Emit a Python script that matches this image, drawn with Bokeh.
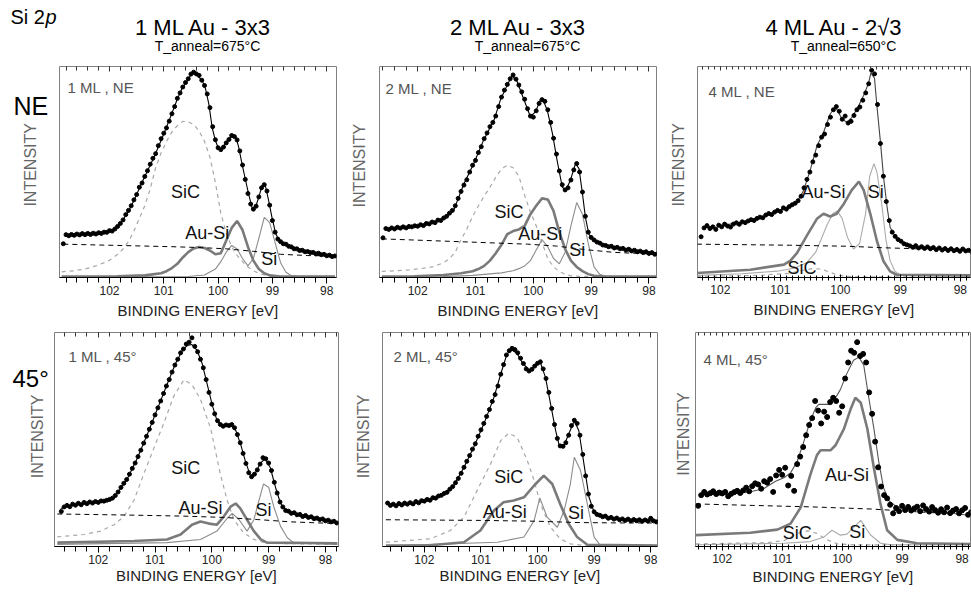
import math
from bokeh.plotting import figure
from bokeh.models import Range1d, LinearAxis, SingleIntervalTicker, Label
from bokeh.layouts import row, column
from bokeh.embed import file_html
from bokeh.resources import INLINE

FONT = "Liberation Sans"
DOT_STEP = 0.05

# ---------------- Panel 1 : 1 ML, NE ----------------
P1_DOT_E0 = 102.85
P1_DOTS = [16.0,20.3,19.8,20.4,20.0,20.6,20.2,20.8,20.3,20.9,
           20.4,21.0,20.6,21.2,20.9,21.5,21.4,22.2,22.0,23.0,
           24.2,25.6,27.3,29.8,31.8,34.0,36.8,39.3,42.8,44.8,
           47.9,50.6,53.7,56.5,58.7,62.5,65.8,68.4,70.9,74.1,
           77.6,81.0,84.9,87.5,90.3,92.4,94.2,96.4,97.3,96.5,
           95.8,93.5,91.0,87.0,80.5,71.5,65.3,61.5,60.6,61.8,
           63.8,65.4,67.3,66.8,65.2,60.0,53.3,46.5,39.8,34.8,
           32.4,33.8,38.2,42.5,44.0,41.0,34.3,27.0,21.5,18.2,
           17.0,16.0,15.8,14.8,14.5,13.6,13.6,12.8,12.9,12.2,
           12.3,11.8,11.9,11.2,11.5,10.8,11.0,10.3,10.6,9.9,10.2]
P1_FIT = [(102.81,20.0),(102.47,20.5),(102.17,20.8),(101.92,22.4),(101.80,25.5),(101.64,31.8),
          (101.55,36.5),(101.37,46.8),(101.18,57.0),(101.00,68.0),(100.88,75.9),(100.75,84.6),
          (100.66,89.8),(100.57,93.2),(100.48,96.8),(100.39,96.0),(100.29,93.2),(100.23,89.3),
          (100.17,82.2),(100.11,71.2),(100.05,64.9),(99.99,60.9),(99.93,60.9),(99.83,64.9),
          (99.74,67.2),(99.68,67.2),(99.62,61.7),(99.56,53.9),(99.50,46.8),(99.44,39.7),
          (99.37,32.6),(99.31,33.4),(99.25,38.1),(99.19,43.6),(99.13,43.6),(99.07,36.5),
          (99.01,28.7),(98.94,20.8),(98.88,17.6),(98.79,16.1),(98.61,13.7),(98.36,12.1),
          (98.12,11.0),(97.87,9.8)]
P1_BG = [(102.85,15.8),(102.35,15.5),(101.85,15.2),(101.35,14.9),(100.85,14.6),(100.35,14.2),
         (99.85,13.6),(99.35,12.4),(98.85,11.0),(98.35,10.4),(97.85,10.2)]
P1_SIC = [(102.88,2.7),(102.65,3.2),(102.45,4.0),(102.25,5.5),(102.05,7.5),(101.95,9.0),(101.85,11.0),
          (101.75,13.5),(101.65,17.0),(101.55,22.0),(101.45,28.0),(101.35,34.0),(101.25,42.0),
          (101.15,52.0),(101.05,59.0),(100.95,64.5),(100.85,69.0),(100.75,72.0),(100.65,74.0),
          (100.55,73.8),(100.45,72.5),(100.35,69.5),(100.25,64.5),(100.15,57.0),(100.05,45.0),
          (99.95,30.5),(99.85,21.0),(99.75,14.5),(99.65,10.5),(99.55,7.5),(99.45,5.0),(99.35,3.2),
          (99.25,2.0),(99.15,1.2),(99.05,0.8),(98.85,0.5),(97.85,0.5)]
P1_AUSI = [(102.88,0.5),(102.35,0.5),(101.85,0.6),(101.35,1.0),(101.05,2.0),(100.95,3.0),(100.85,4.5),
           (100.75,6.5),(100.65,9.5),(100.55,12.0),(100.45,13.8),(100.35,14.5),(100.25,14.0),
           (100.15,12.8),(100.05,11.0),(99.95,11.5),(99.85,17.5),(99.75,23.5),(99.65,26.8),
           (99.55,22.5),(99.45,14.5),(99.35,8.0),(99.25,4.0),(99.15,2.0),(99.05,1.0),(98.85,0.5),(97.85,0.5)]
P1_SI = [(102.88,0.3),(100.55,0.5),(100.25,1.2),(100.05,4.0),(99.95,7.5),(99.85,12.0),(99.75,15.2),
         (99.65,13.5),(99.55,9.0),(99.45,5.5),(99.35,9.0),(99.25,18.5),(99.15,28.5),(99.05,26.0),
         (98.95,16.5),(98.85,7.0),(98.75,2.5),(98.65,0.8),(98.45,0.3),(97.85,0.3)]
P1_TEXT = [("SiC",100.60,40.5),("Au-Si",100.20,21.0),("Si",99.06,9.0)]

# ---------------- Panel 2 : 2 ML, NE ----------------
P2_DOT_E0 = 102.60
P2_DOTS = [18.8,23.2,22.8,23.5,23.0,23.8,23.4,24.0,23.5,24.2,
           24.0,24.5,24.3,25.0,24.6,25.6,25.4,26.3,26.0,27.2,
           27.0,28.2,29.0,30.5,31.8,34.0,37.5,40.8,43.8,46.3,
           50.0,53.2,55.5,59.2,62.0,65.8,68.5,71.5,73.5,76.5,
           81.0,85.5,88.8,91.5,94.2,96.0,94.0,91.2,88.0,84.5,
           80.0,76.5,76.0,79.0,82.5,84.3,83.5,79.5,73.5,66.0,
           58.5,50.5,44.0,41.5,42.5,46.2,51.0,54.0,50.0,40.5,
           29.0,21.5,19.0,17.8,16.8,16.3,15.4,15.2,14.6,14.8,
           14.0,14.3,13.6,13.8,13.0,13.4,12.6,12.9,12.2,12.5,
           11.8,12.2,11.4,11.8,11.0,11.3]
P2_FIT = [(102.53,23.0),(102.36,23.3),(102.07,24.1),(101.78,25.7),(101.55,27.8),(101.38,31.7),
          (101.20,44.4),(101.03,54.0),(100.86,65.1),(100.68,74.6),(100.57,84.1),(100.45,91.3),
          (100.37,95.5),(100.28,92.9),(100.16,84.1),(100.05,76.2),(99.96,78.6),(99.88,84.1),
          (99.82,83.3),(99.76,79.4),(99.67,68.3),(99.59,55.6),(99.50,42.9),(99.44,41.3),
          (99.36,46.0),(99.27,54.0),(99.21,51.6),(99.15,39.7),(99.10,28.6),(99.04,20.6),
          (98.95,17.5),(98.78,15.1),(98.43,13.5),(98.09,11.9),(97.87,11.1)]
P2_BG = [(102.62,18.3),(102.10,17.8),(101.60,17.3),(101.10,16.8),(100.60,16.3),(100.10,15.8),
         (99.60,14.9),(99.10,13.2),(98.60,11.9),(98.10,11.3),(97.87,11.1)]
P2_SIC = [(102.62,2.9),(102.35,3.2),(102.15,3.6),(101.95,4.2),(101.75,5.0),(101.55,7.0),(101.45,9.0),
          (101.35,12.0),(101.25,18.0),(101.15,23.0),(101.05,29.0),(100.95,34.0),(100.85,38.5),
          (100.75,42.8),(100.65,47.5),(100.55,51.5),(100.45,53.2),(100.35,52.0),(100.25,48.0),
          (100.15,39.0),(100.05,31.0),(99.95,24.5),(99.85,16.5),(99.75,9.0),(99.65,5.0),(99.55,2.8),
          (99.45,1.5),(99.35,0.8),(99.15,0.5),(97.87,0.5)]
P2_AUSI = [(102.62,0.5),(102.05,0.6),(101.55,1.2),(101.25,2.0),(101.05,3.0),(100.95,4.0),(100.85,5.5),
           (100.75,8.0),(100.65,11.5),(100.55,15.5),(100.45,20.5),(100.35,22.0),(100.25,22.8),
           (100.15,24.5),(100.05,30.0),(99.95,34.0),(99.85,37.5),(99.75,37.0),(99.65,31.5),
           (99.55,21.5),(99.45,13.5),(99.35,8.0),(99.25,5.0),(99.15,3.0),(99.05,1.6),(98.95,0.8),
           (98.75,0.5),(97.87,0.5)]
P2_SI = [(102.62,0.3),(101.55,0.4),(101.05,1.0),(100.55,2.2),(100.35,3.2),(100.25,4.2),(100.15,5.5),
         (100.05,8.0),(99.95,13.0),(99.85,18.0),(99.75,14.5),(99.65,9.0),(99.55,6.5),(99.45,12.0),
         (99.35,24.5),(99.25,35.5),(99.15,30.0),(99.05,16.0),(98.95,5.0),(98.85,1.5),(98.75,0.5),
         (97.87,0.3)]
P2_TEXT = [("SiC",100.42,31.0),("Au-Si",99.88,20.6),("Si",99.24,13.0)]

# ---------------- Panel 3 : 4 ML, NE ----------------
P3_DOT_E0 = 102.32
P3_DOT_STEP = 0.049
P3_DOTS = [19.3,23.5,24.6,23.2,24.0,22.8,24.8,24.0,25.3,24.4,
           23.9,25.3,25.9,25.2,26.4,26.0,26.8,27.4,27.0,28.0,
           28.6,28.3,29.6,30.3,29.8,31.0,31.8,31.3,33.0,32.4,
           33.6,34.5,35.2,36.4,38.5,42.5,46.5,50.0,54.8,58.0,
           62.5,66.5,68.0,72.5,76.0,79.5,81.0,78.8,75.0,76.5,
           73.2,74.0,76.8,79.5,80.8,84.0,87.5,91.8,98.2,96.5,
           82.0,63.5,48.0,36.0,27.0,21.5,19.5,18.0,17.2,16.0,
           15.5,15.0,14.3,15.1,14.0,14.6,13.8,14.5,13.6,14.2,
           13.2,14.0,13.0,13.7,12.8,13.6,12.7,13.3,12.4,13.5,
           12.6,12.9,12.2]
P3_FIT = [(102.28,23.8),(102.06,23.8),(101.78,25.7),(101.50,27.0),(101.22,29.4),(100.94,32.6),
          (100.72,35.8),(100.61,41.4),(100.50,51.0),(100.39,62.3),(100.28,68.7),(100.17,77.5),
          (100.08,80.7),(99.97,75.1),(99.89,73.5),(99.81,75.8),(99.72,79.9),(99.61,86.4),
          (99.53,92.0),(99.49,97.0),(99.43,94.4),(99.39,81.5),(99.33,63.9),(99.28,47.8),
          (99.22,33.4),(99.17,23.8),(99.06,18.1),(98.83,14.9),(98.56,14.1),(98.28,13.3),(97.83,12.8)]
P3_BG = [(102.39,15.8),(100.85,15.3),(99.87,14.8),(99.29,14.1),(98.70,13.6),(97.83,13.3)]
P3_SIC = [(102.39,0.5),(101.35,1.0),(100.85,2.0),(100.66,3.2),(100.47,4.2),(100.32,4.0),(100.17,2.5),
          (100.03,1.0),(99.78,0.3),(97.83,0.3)]
P3_AUSI = [(102.39,2.1),(101.50,3.7),(100.94,6.1),(100.83,8.0),(100.72,11.7),(100.56,19.7),(100.39,27.8),
           (100.28,30.2),(100.17,28.9),(100.06,30.2),(99.94,35.0),(99.81,41.4),(99.69,45.4),(99.61,41.4),
           (99.50,30.2),(99.39,17.3),(99.28,7.7),(99.17,2.9),(99.06,1.3),(97.83,1.0)]
P3_SI = [(102.39,1.0),(101.64,1.8),(101.05,3.0),(100.76,4.5),(100.56,7.0),(100.41,12.0),(100.32,18.0),
         (100.22,25.0),(100.12,30.5),(100.05,31.5),(99.97,28.0),(99.88,19.0),(99.78,13.5),(99.68,16.0),
         (99.58,30.0),(99.51,48.0),(99.44,54.0),(99.39,50.0),(99.31,35.0),(99.24,18.0),(99.17,8.0),
         (99.09,3.0),(99.00,1.2),(98.80,0.8),(97.83,0.8)]
P3_TEXT = [("Au-Si",100.28,40.6),("Si",99.41,40.6),("SiC",100.64,4.5)]

# ---------------- Panel 4 : 1 ML, 45 deg ----------------
P4_DOT_E0 = 102.65
P4_DOTS = [16.4,18.5,19.2,18.6,19.8,19.3,20.2,19.5,20.6,20.0,
           20.8,20.3,21.0,20.6,21.3,21.2,21.6,22.0,22.6,23.8,
           25.5,27.6,29.5,31.3,33.8,36.5,39.0,42.0,45.0,48.3,
           51.5,54.8,58.0,61.5,64.8,68.0,71.5,75.0,78.0,81.5,
           84.8,87.5,90.5,92.3,94.6,95.5,97.5,93.5,91.0,87.5,
           83.5,78.0,72.0,66.5,62.0,58.8,57.0,56.2,56.8,56.5,
           57.0,55.5,52.3,48.5,43.5,38.8,34.5,32.6,33.8,35.8,
           38.5,41.5,41.0,39.0,35.5,30.0,25.0,20.8,18.5,16.8,
           16.5,15.5,15.8,14.8,15.0,14.0,14.5,13.6,13.9,13.0,
           13.3,12.6,12.9,12.0,12.3,11.5,11.8,11.0]
P4_FIT = [(102.66,17.8),(102.55,18.8),(102.25,20.1),(101.96,20.9),(101.72,23.1),(101.61,27.0),
          (101.49,31.5),(101.31,41.4),(101.14,52.1),(100.96,64.2),(100.79,75.6),(100.64,85.5),
          (100.52,91.6),(100.43,94.0),(100.35,94.4),(100.26,91.6),(100.17,85.5),(100.08,75.6),
          (99.99,65.8),(99.91,58.9),(99.82,56.6),(99.67,56.6),(99.58,54.3),(99.49,47.5),
          (99.41,39.9),(99.32,33.0),(99.23,34.5),(99.14,39.1),(99.06,41.0),(98.97,36.8),
          (98.88,27.7),(98.79,20.1),(98.67,16.3),(98.44,14.3),(98.15,12.5),(97.79,11.0)]
P4_BG = [(102.72,15.2),(101.50,14.7),(100.50,14.2),(99.80,13.6),(99.20,12.6),(98.60,11.5),(97.79,10.7)]
P4_SIC = [(102.72,4.5),(102.25,5.6),(101.96,7.2),(101.72,10.2),(101.55,14.0),(101.37,21.6),(101.20,33.8),
          (101.02,46.0),(100.84,58.0),(100.67,70.3),(100.49,77.9),(100.35,75.6),(100.20,68.8),
          (100.02,55.1),(99.85,33.8),(99.73,21.6),(99.61,12.5),(99.44,6.4),(99.26,3.3),(99.03,1.5),
          (97.79,1.0)]
P4_AUSI = [(102.72,1.8),(101.37,2.6),(100.79,3.3),(100.55,5.6),(100.35,10.2),(100.20,11.7),(100.05,10.7),
           (99.91,10.2),(99.79,14.0),(99.67,18.6),(99.58,20.1),(99.50,17.8),(99.38,12.5),(99.26,7.2),
           (99.14,3.3),(99.03,1.8),(97.79,1.5)]
P4_SI = [(102.72,1.0),(100.79,1.8),(100.20,3.3),(99.91,7.2),(99.73,13.2),(99.64,15.5),(99.52,12.5),
         (99.38,7.2),(99.26,12.5),(99.17,21.6),(99.09,29.2),(99.00,27.7),(98.91,18.6),(98.79,9.4),
         (98.67,4.1),(98.56,1.8),(97.79,1.0)]
P4_TEXT = [("SiC",100.46,36.8),("Au-Si",100.20,17.8),("Si",99.09,17.0)]

# ---------------- Panel 5 : 2 ML, 45 deg ----------------
P5_DOT_E0 = 102.65
P5_DOTS = [20.3,19.2,19.8,19.0,20.1,19.4,20.3,19.8,20.5,19.9,
           21.0,20.4,21.4,21.2,22.0,21.6,22.8,22.6,23.6,23.9,
           24.8,25.3,26.8,28.0,29.8,31.8,34.2,37.0,39.8,42.5,
           45.5,48.0,51.5,54.5,57.5,60.8,64.0,67.8,71.0,75.0,
           80.5,85.0,89.5,91.5,92.6,92.0,90.5,88.0,85.5,83.0,
           82.0,82.8,84.3,85.6,86.3,83.0,78.5,72.0,64.5,57.0,
           50.5,47.0,46.8,48.5,52.0,56.5,59.0,57.5,52.0,43.0,
           33.0,24.5,18.8,16.2,15.0,14.6,13.9,14.2,13.2,13.6,
           12.8,13.3,12.5,12.9,12.2,12.8,12.0,12.6,12.0,12.5,
           11.8,12.4,11.9,13.2,12.0,11.5,11.8]
P5_FIT = [(102.66,19.9),(102.48,19.3),(102.19,19.9),(101.89,22.2),(101.66,24.6),(101.48,28.5),
          (101.30,37.0),(101.13,46.3),(100.95,57.2),(100.77,69.7),(100.65,80.6),(100.54,90.0),
          (100.45,91.8),(100.36,90.2),(100.27,86.0),(100.15,82.3),(100.04,84.4),(99.95,86.0),
          (99.86,79.0),(99.77,66.6),(99.68,54.1),(99.62,47.5),(99.53,47.3),(99.45,52.6),
          (99.35,58.8),(99.27,54.1),(99.18,38.6),(99.09,23.0),(99.00,16.0),(98.83,13.7),
          (98.47,12.1),(98.12,12.1),(97.85,11.7)]
P5_BG = [(102.68,12.5),(101.00,12.2),(100.00,11.8),(99.30,11.2),(98.50,11.0),(97.88,11.0)]
P5_SIC = [(102.68,2.0),(101.89,3.6),(101.54,7.5),(101.30,13.7),(101.07,26.1),(100.83,38.6),(100.65,49.5),
          (100.51,52.9),(100.36,51.0),(100.18,40.1),(100.06,30.8),(99.95,19.9),(99.77,9.0),(99.60,3.6),
          (99.42,1.2),(99.20,0.6),(97.88,0.6)]
P5_AUSI = [(102.68,0.5),(101.89,0.6),(101.30,2.0),(101.01,7.5),(100.77,16.8),(100.60,20.7),(100.42,21.5),
           (100.24,23.0),(100.06,28.5),(99.89,33.1),(99.74,29.2),(99.60,19.9),(99.45,10.6),(99.30,4.4),
           (99.12,0.8),(97.88,0.5)]
P5_SI = [(102.68,0.3),(100.71,2.0),(100.24,4.4),(100.06,12.1),(99.96,22.7),(99.83,13.7),(99.65,9.0),
         (99.53,16.8),(99.42,29.2),(99.35,41.7),(99.24,35.5),(99.12,19.9),(99.00,4.4),(98.89,0.5),
         (97.88,0.3)]
P5_TEXT = [("SiC",100.51,32.3),("Au-Si",100.58,16.0),("Si",99.32,15.6)]

# ---------------- Panel 6 : 4 ML, 45 deg ----------------
P6_DOT_E0 = 102.40
P6_DOTS = [19.0,24.0,25.5,24.3,24.9,25.8,24.5,25.2,24.8,25.5,
           23.5,24.6,25.4,26.0,25.0,26.2,27.5,25.8,28.2,29.5,
           29.0,27.0,30.5,29.8,31.5,25.5,33.2,35.8,33.5,36.8,
           28.5,33.0,26.0,38.5,42.0,46.5,52.0,56.8,60.0,68.0,
           63.5,57.5,63.0,60.5,67.5,69.5,68.0,62.5,65.5,78.5,
           86.0,91.5,90.5,95.5,89.0,90.0,86.0,72.0,62.0,49.0,
           37.0,28.0,24.0,22.5,19.5,15.5,18.0,16.5,19.0,17.0,
           18.5,16.8,17.8,18.6,16.5,19.2,17.5,16.3,18.4,17.0,
           15.8,17.4,16.0,18.2,15.6,16.8,17.5,15.5,16.9,18.0,
           14.8,16.0]
P6_FIT = [(102.36,24.1),(102.08,24.4),(101.81,24.7),(101.53,25.6),(101.31,27.0),(101.11,30.5),
          (100.97,32.1),(100.86,34.4),(100.75,39.7),(100.64,48.9),(100.53,58.8),(100.44,64.9),
          (100.39,66.4),(100.31,66.4),(100.19,66.4),(100.11,69.5),(100.03,73.3),(99.92,80.9),
          (99.81,87.0),(99.72,88.5),(99.64,84.7),(99.56,70.2),(99.47,55.0),(99.39,39.7),
          (99.31,27.5),(99.22,21.4),(99.08,18.3),(98.75,17.1),(98.31,16.0),(97.86,14.5)]
P6_BG = [(102.44,19.9),(101.50,19.2),(100.50,18.5),(99.50,17.5),(98.80,16.3),(97.86,14.8)]
P6_SIC = [(102.44,1.2),(101.25,1.8),(100.97,2.7),(100.75,6.1),(100.58,7.3),(100.42,6.1),(100.25,3.1),
          (100.08,1.2),(99.80,0.8),(97.86,0.8)]
P6_AUSI = [(102.44,5.3),(101.53,6.4),(101.08,7.9),(100.86,10.7),(100.69,18.3),(100.53,33.6),(100.42,42.7),
           (100.36,45.0),(100.19,45.0),(100.11,47.3),(99.97,55.0),(99.86,64.1),(99.78,69.5),(99.69,67.2),
           (99.58,55.0),(99.47,36.6),(99.36,19.8),(99.25,7.6),(99.08,3.1),(98.75,1.5),(97.86,1.2)]
P6_SI = [(102.44,0.8),(100.97,1.5),(100.53,2.3),(100.31,4.3),(100.17,7.6),(100.03,5.3),(99.92,5.8),
         (99.69,12.2),(99.53,5.5),(99.36,1.5),(99.19,0.8),(97.86,0.8)]
P6_TEXT = [("Au-Si",99.92,33.6),("SiC",100.75,6.1),("Si",99.75,6.9)]

COLUMN_TITLES = ["1 ML Au - 3x3", "2 ML Au - 3x3", "4 ML Au - 2\u221a3"]
ANNEAL = ["T_anneal=675\u00b0C", "T_anneal=675\u00b0C", "T_anneal=650\u00b0C"]
PANEL_TAGS = ["1 ML , NE", "2 ML , NE", "4 ML , NE", "1 ML , 45\u00b0", "2 ML, 45\u00b0", "4 ML, 45\u00b0"]
ROW_LABELS = ["NE", "45\u00b0"]
X_TITLE = "BINDING ENERGY [eV]"
Y_TITLE = "INTENSITY"

# ---------------- layout (page pixels) ----------------
HEADER = (0, 0, 971, 58)
ROW1 = (58, 322)
ROW2 = (322, 594)

# text items: (text, X, Ycenter, size, color, align, angle, style)
HEADER_TEXT = [
    ("Si 2", 10, 16.5, 20, "#000000", "left", 0, "normal"),
    ("p", 45, 16.5, 20, "#000000", "left", 0, "italic"),
    (COLUMN_TITLES[0], 203, 27, 22, "#000000", "center", 0, "normal"),
    (COLUMN_TITLES[1], 518, 27, 22, "#000000", "center", 0, "normal"),
    (COLUMN_TITLES[2], 834, 27, 22, "#000000", "center", 0, "normal"),
    (ANNEAL[0], 207, 45.5, 14, "#000000", "center", 0, "normal"),
    (ANNEAL[1], 527, 45.5, 14, "#000000", "center", 0, "normal"),
    (ANNEAL[2], 843, 45.5, 14, "#000000", "center", 0, "normal"),
]
VERT = math.pi / 2
STRIPS_ROW1 = [
    ((0, 52), [(ROW_LABELS[0], 13, 107.5, 25, "#000000", "left", 0, "normal"),
               (Y_TITLE, 30, 181, 16, "#666666", "center", VERT, "normal")]),
    ((340, 372), [(Y_TITLE, 359, 182, 16, "#666666", "center", VERT, "normal")]),
    ((660, 692), [(Y_TITLE, 678, 181, 16, "#666666", "center", VERT, "normal")]),
]
STRIPS_ROW2 = [
    ((0, 50), [(ROW_LABELS[1], 12, 380, 24, "#000000", "left", 0, "normal"),
               (Y_TITLE, 37, 454, 16, "#666666", "center", VERT, "normal")]),
    ((341, 376), [(Y_TITLE, 363, 454, 16, "#666666", "center", VERT, "normal")]),
    ((662, 692), [(Y_TITLE, 683, 451, 16, "#666666", "center", VERT, "normal")]),
]

CFG = [
    dict(tile=(52, 58, 340, 322), frame=(59, 66, 336, 277), er=(102.92, 97.82), minor=5, xls=4,
         dots=(P1_DOT_E0, DOT_STEP, P1_DOTS), fit=P1_FIT, bg=P1_BG, sic=P1_SIC, ausi=P1_AUSI, si=P1_SI,
         text=P1_TEXT, tag=(PANEL_TAGS[0], 67, 86.7)),
    dict(tile=(372, 58, 660, 322), frame=(379, 66, 656, 277), er=(102.66, 97.87), minor=5, xls=4,
         dots=(P2_DOT_E0, DOT_STEP, P2_DOTS), fit=P2_FIT, bg=P2_BG, sic=P2_SIC, ausi=P2_AUSI, si=P2_SI,
         text=P2_TEXT, tag=(PANEL_TAGS[1], 385, 87.5)),
    dict(tile=(692, 58, 971, 322), frame=(697, 66, 970, 277), er=(102.38, 97.83), minor=10, xls=4,
         dots=(P3_DOT_E0, P3_DOT_STEP, P3_DOTS), fit=P3_FIT, bg=P3_BG, sic=P3_SIC, ausi=P3_AUSI, si=P3_SI,
         text=P3_TEXT, tag=(PANEL_TAGS[2], 708, 91)),
    dict(tile=(50, 322, 341, 594), frame=(54, 332, 338, 550), er=(102.77, 97.77), minor=5, xls=0,
         dots=(P4_DOT_E0, DOT_STEP, P4_DOTS), fit=P4_FIT, bg=P4_BG, sic=P4_SIC, ausi=P4_AUSI, si=P4_SI,
         text=P4_TEXT, tag=(PANEL_TAGS[3], 68, 356)),
    dict(tile=(376, 322, 662, 594), frame=(382, 332, 657, 546), er=(102.74, 97.88), minor=5, xls=0,
         dots=(P5_DOT_E0, DOT_STEP, P5_DOTS), fit=P5_FIT, bg=P5_BG, sic=P5_SIC, ausi=P5_AUSI, si=P5_SI,
         text=P5_TEXT, tag=(PANEL_TAGS[4], 393, 356)),
    dict(tile=(692, 322, 971, 594), frame=(695, 332, 970, 550), er=(102.445, 97.86), minor=10, xls=2,
         dots=(P6_DOT_E0, DOT_STEP, P6_DOTS), fit=P6_FIT, bg=P6_BG, sic=P6_SIC, ausi=P6_AUSI, si=P6_SI,
         text=P6_TEXT, tag=(PANEL_TAGS[5], 703, 360)),
]


def text_strip(x0, y0, x1, y1, items):
    w, h = x1 - x0, y1 - y0
    p = figure(width=w, height=h, x_range=Range1d(0, w), y_range=Range1d(0, h), title=None,
               output_backend="svg", toolbar_location=None,
               x_axis_location=None, y_axis_location=None,
               min_border_left=0, min_border_right=0, min_border_top=0, min_border_bottom=0)
    p.grid.visible = False
    p.outline_line_color = None
    p.background_fill_color = "white"
    p.border_fill_color = "white"
    for (t, X, Y, size, color, align, angle, style) in items:
        p.add_layout(Label(x=X - x0, y=y1 - Y, text=t, text_font=FONT, text_font_size=f"{size}px",
                           text_color=color, text_align=align, text_baseline="middle",
                           angle=angle, text_font_style=style))
    return p


def page_to_data(c, X, Y):
    fl, ft, fr, fb = c["frame"]
    e0, e1 = c["er"]
    return e0 + (X - fl) / (fr - fl) * (e1 - e0), (fb - Y) / (fb - ft) * 100.0


def build(i, c):
    tl, tt, tr, tb = c["tile"]
    fl, ft, fr, fb = c["frame"]
    e0, e1 = c["er"]
    p = figure(width=tr - tl, height=tb - tt, x_range=Range1d(e0, e1), y_range=Range1d(0, 100),
               title=None, output_backend="svg", toolbar_location=None, y_axis_location=None,
               min_border_left=fl - tl, min_border_right=tr - fr,
               min_border_top=ft - tt, min_border_bottom=tb - fb)
    p.grid.visible = False
    p.outline_line_color = "#808080"
    p.outline_line_width = 1
    p.background_fill_color = "white"
    p.border_fill_color = "white"

    fine = c["minor"] == 10
    ax = p.xaxis[0]
    ax.ticker = SingleIntervalTicker(interval=1, num_minor_ticks=c["minor"])
    ax.axis_line_color = "black"
    ax.major_tick_line_color = "black"
    ax.minor_tick_line_color = "black"
    ax.major_tick_out = 4 if fine else 6
    ax.major_tick_in = 3 if fine else 0
    ax.minor_tick_out = 3 if fine else 5
    ax.minor_tick_in = 2 if fine else 0
    ax.major_label_text_font = FONT
    ax.major_label_text_font_size = "12px"
    ax.major_label_text_color = "#222222"
    ax.major_label_standoff = 3 if fine else 2
    ax.axis_label = X_TITLE
    ax.axis_label_text_font = FONT
    ax.axis_label_text_font_size = "15px"
    ax.axis_label_text_font_style = "normal"
    ax.axis_label_text_color = "#222222"
    ax.axis_label_standoff = c["xls"]

    top = LinearAxis(ticker=SingleIntervalTicker(interval=1, num_minor_ticks=c["minor"]),
                     axis_line_color=None, major_tick_line_color="#333333",
                     minor_tick_line_color="#333333", major_tick_in=4 if fine else 5,
                     major_tick_out=0, minor_tick_in=3 if fine else 4, minor_tick_out=0,
                     major_label_text_font_size="4px", major_label_text_color=None,
                     major_label_standoff=0)
    p.add_layout(top, "above")

    fit_color = "#000000" if not fine else ("#444444" if i == 2 else "#555555")
    si_color = "#8c8c8c" if not fine else "#ababab"

    def draw(pairs, **kw):
        p.line([a for a, _ in pairs], [b for _, b in pairs], **kw)

    draw(c["sic"], line_color="#a8a8a8", line_width=1.2, line_dash="4 4")
    draw(c["si"], line_color=si_color, line_width=1.1)
    draw(c["ausi"], line_color="#7a7a7a", line_width=2.6)
    draw(c["bg"], line_color="#000000", line_width=1, line_dash="5 4")
    draw(c["fit"], line_color=fit_color, line_width=1.1)

    d0, step, vals = c["dots"]
    p.scatter([d0 - step * k for k in range(len(vals))], vals,
              size=5 if i == 5 else 4, color="black", marker="circle")

    for txt, ex, vy in c["text"]:
        p.add_layout(Label(x=ex, y=vy, text=txt, text_font=FONT, text_font_size="18px",
                           text_color="#111111", text_align="center", text_baseline="middle"))

    tag, tx, ty = c["tag"]
    x, y = page_to_data(c, tx, ty)
    p.add_layout(Label(x=x, y=y, text=tag, text_font=FONT, text_font_size="15px",
                       text_color="#555555", text_align="left", text_baseline="middle"))
    return p


figs = [build(i, c) for i, c in enumerate(CFG)]
header = text_strip(*HEADER, HEADER_TEXT)
s1 = [text_strip(a, ROW1[0], b, ROW1[1], items) for (a, b), items in STRIPS_ROW1]
s2 = [text_strip(a, ROW2[0], b, ROW2[1], items) for (a, b), items in STRIPS_ROW2]

layout = column(
    header,
    row(s1[0], figs[0], s1[1], figs[1], s1[2], figs[2], spacing=0),
    row(s2[0], figs[3], s2[1], figs[4], s2[2], figs[5], spacing=0),
    spacing=0,
)

open("out.html", "w").write(file_html(layout, INLINE, title="Si 2p"))
